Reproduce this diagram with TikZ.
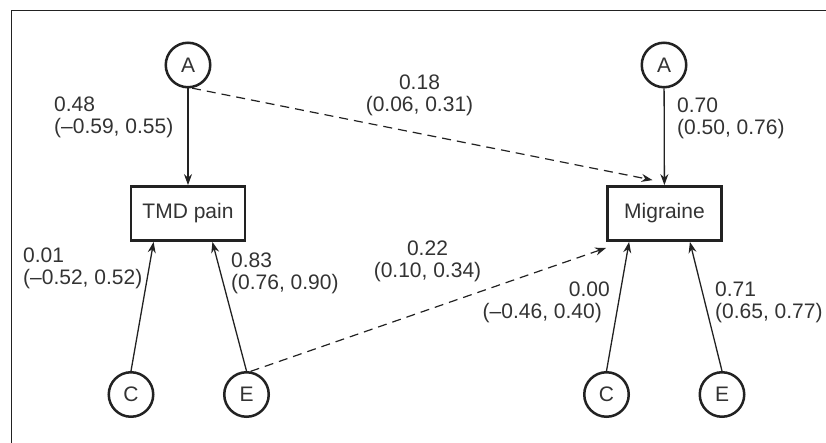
\documentclass[tikz,border=0pt]{standalone}
\usepackage{fontspec}
\setmainfont{Liberation Sans}
\usetikzlibrary{arrows.meta,calc}
\definecolor{ink}{HTML}{222222}
\definecolor{txt}{HTML}{333333}
\begin{document}
\begin{tikzpicture}[x=1pt,y=-1pt,
  latent/.style={circle,draw=ink,line width=2.5pt,minimum size=44.5pt,inner sep=0pt,
    font=\fontsize{21}{22.5}\selectfont,text=txt},
  obs/.style={rectangle,draw=ink,line width=2.8pt,minimum width=114pt,minimum height=54pt,
    inner sep=0pt,font=\fontsize{21}{22.5}\selectfont,text=txt},
  lbl/.style={inner sep=0pt,font=\fontsize{21}{22.5}\selectfont,text=txt},
  arr/.style={draw=ink,line width=1.3pt,-{Stealth[length=11pt,width=8pt]}},
  darr/.style={arr,line width=1.2pt,dash pattern=on 9pt off 6pt}]
\useasboundingbox (0,0) rectangle (826,443);
\draw[ink,line width=1pt] (826,11) -- (11,11) -- (11,443);
% nodes
\node[latent] (Al) at (188,65) {A};
\node[latent] (Ar) at (664,65) {A};
\node[obs] (T) at (188,213.5) {TMD pain};
\node[obs] (M) at (664.5,213.5) {Migraine};
\node[latent] (Cl) at (131,394.5) {C};
\node[latent] (El) at (246.5,394.5) {E};
\node[latent] (Cr) at (606.5,394.5) {C};
\node[latent] (Er) at (722,394.5) {E};
% connectors
\draw[arr] (Al) -- (T);
\draw[arr] (Ar) -- (M);
\draw[arr] (Cl.north) -- ($(T.south west)+(24,0)$);
\draw[arr] (El.north) -- ($(T.south east)+(-34,0)$);
\draw[arr] (Cr.north) -- ($(M.south west)+(23,0)$);
\draw[arr] (Er.north) -- ($(M.south east)+(-33,0)$);
\draw[darr] (Al.-80) -- ($(M.north)+(-12,-5)$);
\draw[darr] (El.80) -- ($(M.south west)+(0,6)$);
% labels
\node[lbl,anchor=north west,align=left] (l1) at (54,96.5) {0.48\\(–0.59, 0.55)};
\node[lbl,anchor=north,align=center] (l2) at (419.5,74.5) {0.18\\(0.06, 0.31)};
\node[lbl,anchor=north west,align=left] (l3) at (677,97.5) {0.70\\(0.50, 0.76)};
\node[lbl,anchor=north west,align=left] (l4) at (23,247.5) {0.01\\(–0.52, 0.52)};
\node[lbl,anchor=north west,align=left] (l5) at (231,252.5) {0.83\\(0.76, 0.90)};
\node[lbl,anchor=north,align=center] (l6) at (427.5,240.5) {0.22\\(0.10, 0.34)};
\node[lbl,anchor=north east,align=right] (l7) at (610,281.5) {0.00\\(–0.46, 0.40)\rule{8pt}{0pt}};
\node[lbl,anchor=north west,align=left] (l8) at (715,281.5) {0.71\\(0.65, 0.77)};
\end{tikzpicture}
\end{document}
